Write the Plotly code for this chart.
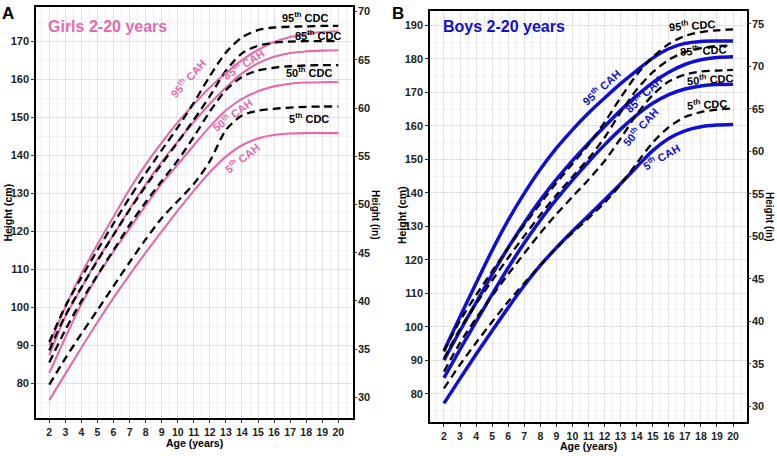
import plotly.graph_objects as go

ages = list(range(2, 21))

# Girls (cm)
girls_cah_5 = [75.5, 82.4, 89.3, 96.0, 102.4, 108.5, 114.3, 119.9, 125.4, 130.6, 135.5, 139.6, 142.6, 144.4, 145.3, 145.7, 145.8, 145.8, 145.8]
girls_cah_50 = [82.6, 92.0, 100.8, 108.2, 114.6, 120.7, 126.7, 132.5, 137.5, 142.6, 147.5, 151.8, 154.8, 156.8, 158.1, 158.8, 159.1, 159.2, 159.2]
girls_cah_85 = [87.3, 97.5, 105.0, 112.5, 119.0, 125.8, 132.3, 138.2, 143.6, 148.7, 153.5, 157.8, 161.5, 164.2, 165.9, 166.9, 167.3, 167.5, 167.6]
girls_cah_95 = [90.0, 100.0, 108.8, 116.5, 123.8, 131.0, 137.5, 143.3, 148.6, 153.4, 157.8, 161.6, 165.0, 167.7, 169.8, 171.1, 171.9, 172.4, 172.6]
girls_cdc_5 = [79.6, 86.5, 93.0, 99.2, 105.5, 111.8, 117.8, 123.4, 127.9, 132.4, 138.4, 146.6, 150.4, 151.7, 152.2, 152.5, 152.7, 152.8, 152.8]
girls_cdc_50 = [85.4, 94.0, 101.6, 108.4, 115.0, 121.6, 127.6, 133.2, 138.6, 144.8, 151.5, 157.1, 160.6, 162.3, 163.0, 163.4, 163.6, 163.7, 163.7]
girls_cdc_85 = [88.6, 97.8, 105.2, 112.2, 119.0, 125.6, 131.8, 137.7, 143.4, 149.3, 155.5, 162.2, 166.8, 168.8, 169.6, 169.9, 170.0, 170.0, 170.0]
girls_cdc_95 = [90.8, 100.2, 107.8, 115.0, 122.0, 128.8, 135.2, 141.3, 147.3, 153.8, 160.8, 167.0, 171.0, 172.9, 173.6, 173.8, 173.9, 174.0, 174.0]

# Boys (cm)
boys_cah_5 = [77.1, 84.5, 91.8, 98.8, 105.7, 112.3, 118.3, 123.6, 128.5, 133.2, 137.9, 142.7, 147.7, 152.6, 156.2, 158.5, 159.7, 160.2, 160.4]
boys_cah_50 = [84.7, 93.2, 101.5, 109.7, 117.6, 125.0, 131.8, 138.0, 143.8, 149.2, 154.3, 159.0, 163.2, 166.7, 169.3, 171.0, 171.9, 172.3, 172.4]
boys_cah_85 = [90.0, 98.8, 107.2, 115.6, 123.6, 131.0, 137.8, 144.0, 149.6, 154.8, 159.8, 164.6, 169.0, 172.9, 176.0, 178.3, 179.7, 180.4, 180.6]
boys_cah_95 = [92.8, 103.0, 113.0, 122.8, 131.8, 139.8, 147.0, 153.3, 158.8, 163.8, 168.3, 172.6, 176.5, 180.2, 183.0, 184.6, 185.2, 185.3, 185.3]
boys_cdc_5 = [81.6, 88.7, 95.2, 101.5, 107.5, 113.0, 118.4, 123.4, 128.0, 132.4, 137.0, 142.4, 148.8, 155.0, 159.6, 162.6, 164.1, 164.8, 165.2]
boys_cdc_50 = [86.6, 95.2, 102.5, 109.2, 115.7, 121.9, 128.0, 133.6, 138.8, 143.9, 149.5, 156.2, 163.4, 169.2, 173.2, 175.3, 176.2, 176.5, 176.7]
boys_cdc_85 = [90.5, 99.4, 106.8, 113.8, 120.6, 127.1, 133.4, 139.3, 144.8, 150.2, 156.5, 164.0, 170.8, 176.0, 179.7, 182.0, 183.2, 183.8, 184.0]
boys_cdc_95 = [92.6, 101.8, 109.4, 116.6, 123.6, 130.3, 136.8, 142.9, 148.6, 154.3, 161.0, 168.4, 175.2, 180.5, 184.4, 186.8, 188.0, 188.5, 188.8]

cm_ticks_girls = list(range(80, 171, 10))
in_ticks_girls = list(range(30, 71, 5))
cm_ticks_boys = list(range(80, 191, 10))
in_ticks_boys = list(range(30, 76, 5))

PINK = "#E36AAE"
BLUE = "#1010D2"
W, H = 777, 456
FONT = "Arial"

fig = go.Figure()

def add_lines(cah, cdc, color, lw, xa, ya):
    for s in cah:
        fig.add_trace(go.Scatter(x=ages, y=s, mode="lines", xaxis=xa, yaxis=ya,
                                 line=dict(color=color, width=lw, shape="spline", smoothing=0.8),
                                 showlegend=False, hoverinfo="skip"))
    for s in cdc:
        fig.add_trace(go.Scatter(x=ages, y=s, mode="lines", xaxis=xa, yaxis=ya,
                                 line=dict(color="black", width=2.3, dash="8px,5px", shape="spline", smoothing=0.8),
                                 showlegend=False, hoverinfo="skip"))

add_lines([girls_cah_5, girls_cah_50, girls_cah_85, girls_cah_95],
          [girls_cdc_5, girls_cdc_50, girls_cdc_85, girls_cdc_95], PINK, 2.1, "x", "y")
add_lines([boys_cah_5, boys_cah_50, boys_cah_85, boys_cah_95],
          [boys_cdc_5, boys_cdc_50, boys_cdc_85, boys_cdc_95], BLUE, 3.5, "x2", "y2")

# invisible traces so the inch axes are drawn
fig.add_trace(go.Scatter(x=[None], y=[None], xaxis="x", yaxis="y3", showlegend=False, hoverinfo="skip"))
fig.add_trace(go.Scatter(x=[None], y=[None], xaxis="x2", yaxis="y4", showlegend=False, hoverinfo="skip"))

tickfont = dict(family=FONT, size=11, color="#222", weight=700)
xtickfont = dict(family=FONT, size=10.5, color="#222", weight=700)

def xaxis(dom, rng):
    return dict(domain=dom, range=rng, tickvals=ages, ticktext=[str(a) for a in ages],
                tickfont=xtickfont, ticks="outside", ticklen=3, tickcolor="#333",
                showline=True, linecolor="black", linewidth=1.6, mirror=True,
                showgrid=True, gridcolor="#E2E2E2", gridwidth=1,
                minor=dict(tickmode="linear", tick0=1.5, dtick=1, showgrid=True, gridcolor="#EFEFEF", gridwidth=1, ticks=""),
                zeroline=False, fixedrange=True)

def ycm(dom, rng, tv, anchor):
    return dict(domain=dom, range=rng, tickvals=tv, anchor=anchor,
                tickfont=tickfont, ticks="outside", ticklen=3, tickcolor="#333",
                showline=True, linecolor="black", linewidth=1.6,
                showgrid=True, gridcolor="#E2E2E2", gridwidth=1,
                minor=dict(tickmode="linear", tick0=75, dtick=10, showgrid=True, gridcolor="#EFEFEF", gridwidth=1, ticks=""),
                zeroline=False, fixedrange=True)

def yin(over, rng, tv, anchor):
    return dict(overlaying=over, side="right", anchor=anchor, range=[rng[0] / 2.54, rng[1] / 2.54],
                tickvals=tv, tickfont=tickfont, ticks="outside", ticklen=2, tickcolor="#333",
                ticklabelstandoff=-1,
                showline=True, linecolor="black", linewidth=1.6, showgrid=False, zeroline=False,
                fixedrange=True)

g_xr = [1.172, 20.915]
g_yr = [70.75, 179.0]
b_xr = [1.13, 20.87]
b_yr = [71.5, 194.2]

g_xd = [36 / W, 353 / W]
g_yd = [1 - 418 / H, 1 - 5 / H]
b_xd = [430 / W, 747 / W]
b_yd = [1 - 422 / H, 1 - 9.3 / H]

fig.update_layout(
    width=W, height=H, margin=dict(l=0, r=0, t=0, b=0),
    paper_bgcolor="white", plot_bgcolor="white",
    xaxis=xaxis(g_xd, g_xr) | dict(anchor="y"),
    xaxis2=xaxis(b_xd, b_xr) | dict(anchor="y2"),
    yaxis=ycm(g_yd, g_yr, cm_ticks_girls, "x"),
    yaxis2=ycm(b_yd, b_yr, cm_ticks_boys, "x2"),
    yaxis3=yin("y", g_yr, in_ticks_girls, "x"),
    yaxis4=yin("y2", b_yr, in_ticks_boys, "x2"),
    showlegend=False,
)

ann = []
def txt(text, x, y, xref="paper", yref="paper", size=11, color="black", angle=0, xanchor="center", yanchor="middle"):
    ann.append(dict(text=text, x=x, y=y, xref=xref, yref=yref, showarrow=False, textangle=angle,
                    xanchor=xanchor, yanchor=yanchor,
                    font=dict(family=FONT, size=size, color=color, weight=700)))

def px(xp, yp):
    return xp / W, 1 - yp / H

# panel letters and titles
txt("A", *px(8, 12), size=17)
txt("B", *px(398, 12), size=17)
txt("Girls 2-20 years", *px(46, 25), size=16, color=PINK, xanchor="left")
txt("Boys 2-20 years", *px(441, 25), size=16, color=BLUE, xanchor="left")

# axis titles
txt("Height (cm)", *px(8.5, 212), angle=-90, size=10.5)
txt("Height (in)", *px(376, 213), angle=90, size=10)
txt("Age (years)", *px(194, 443), size=10.5)
txt("Height (cm)", *px(402, 214), angle=-90, size=10.5)
txt("Height (in)", *px(770, 215), angle=90, size=10)
txt("Age (years)", *px(588, 446), size=10.5)

# girls curve labels
txt("95<sup>th</sup> CDC", 17.92, 176.4, "x", "y", size=11)
txt("85<sup>th</sup> CDC", 18.73, 171.7, "x", "y", size=11)
txt("50<sup>th</sup> CDC", 18.17, 161.8, "x", "y", size=11)
txt("5<sup>th</sup> CDC", 18.17, 149.8, "x", "y", size=11)
txt("95<sup>th</sup> CAH", 10.65, 160.2, "x", "y", size=11, color=PINK, angle=-48)
txt("85<sup>th</sup> CAH", 14.08, 164.1, "x", "y", size=11, color=PINK, angle=-32)
txt("50<sup>th</sup> CAH", 13.36, 150.6, "x", "y", size=11, color=PINK, angle=-37)
txt("5<sup>th</sup> CAH", 14.0, 139.2, "x", "y", size=11, color=PINK, angle=-38)

# boys curve labels
txt("95<sup>th</sup> CDC", 17.46, 190.0, "x2", "y2", size=11, angle=-4)
txt("85<sup>th</sup> CDC", 18.15, 182.6, "x2", "y2", size=11, angle=-3)
txt("50<sup>th</sup> CDC", 18.56, 173.9, "x2", "y2", size=11, angle=-4)
txt("5<sup>th</sup> CDC", 18.36, 166.5, "x2", "y2", size=11, angle=-3)
txt("95<sup>th</sup> CAH", 11.8, 171.6, "x2", "y2", size=11, color=BLUE, angle=-42)
txt("85<sup>th</sup> CAH", 14.41, 169.6, "x2", "y2", size=11, color=BLUE, angle=-45)
txt("50<sup>th</sup> CAH", 14.2, 159.7, "x2", "y2", size=11, color=BLUE, angle=-48)
txt("5<sup>th</sup> CAH", 15.49, 150.8, "x2", "y2", size=11, color=BLUE, angle=-30)

fig.update_layout(annotations=ann)
fig.write_html("out.html")
